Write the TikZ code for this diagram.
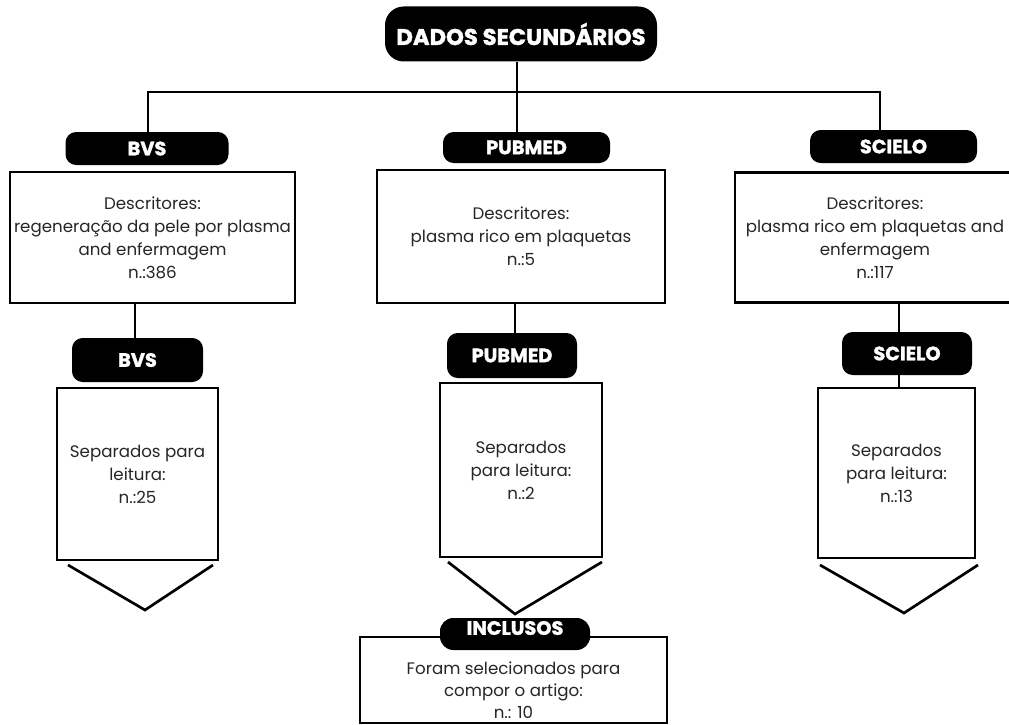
\documentclass[tikz,border=0pt]{standalone}
\usepackage{fontspec}
\setmainfont{Poppins}
\newfontfamily\heavyfont{Poppins}[FakeBold=1.6]
\begin{document}
\begin{tikzpicture}[x=0.75pt,y=-0.75pt,
  sz/.style 2 args={minimum width=#1*0.75pt, minimum height=#2*0.75pt},
  lab/.style={fill=black, rounded corners=8pt, text=white, inner sep=0pt,
    font=\fontsize{14.5}{15}\heavyfont\bfseries},
  box/.style={draw=black, line width=2pt, fill=white, text=black!85, align=center,
    inner sep=0pt, font=\fontsize{12.5}{17.25}\selectfont},
  txt/.style={text=black!85, align=center, inner sep=0pt, font=\fontsize{12.5}{16.5}\selectfont},
  conn/.style={line width=2pt}]
\useasboundingbox (0,0) rectangle (1009,724);

% title
\node[lab, sz={272}{55}, rounded corners=14pt, font=\fontsize{17}{19}\heavyfont\bfseries] (title) at (521,34) {DADOS SECUNDÁRIOS};

% BVS column
\node[lab, sz={163}{33}] (bvslab1) at (147,148.5) {BVS};
\node[box, sz={285}{131}] (bvsbox1) at (152.5,237.5) {Descritores:\\regeneração da pele por plasma\\and enfermagem\\n.:386};
\node[lab, sz={131}{44}] (bvslab2) at (137.5,360) {BVS};
\node[box, sz={161}{172}] (bvsbox2) at (137.5,474) {Separados para\\leitura:\\n.:25};

% PUBMED column
\node[lab, sz={167}{31}] (pmlab1) at (526.5,147.5) {PUBMED};
\node[box, sz={288}{133}] (pmbox1) at (521,236.5) {Descritores:\\plasma rico em plaquetas\\n.:5};
\node[lab, sz={130}{45}] (pmlab2) at (512,355.5) {PUBMED};
\node[box, sz={162}{174}] (pmbox2) at (521,470) {Separados\\para leitura:\\n.:2};

% SCIELO column
\node[lab, sz={167}{33}] (scilab1) at (893.5,146.5) {SCIELO};
\node[box, sz={280}{130}] (scibox1) at (875,237.5) {Descritores:\\plasma rico em plaquetas and\\enfermagem\\n.:117};
\node[lab, sz={130}{43}] (scilab2) at (907,353.5) {SCIELO};
\node[box, sz={157}{170}] (scibox2) at (896.5,473) {Separados\\para leitura:\\n.:13};

% INCLUSOS
\node[box, sz={307}{86}] (incbox) at (513.5,680) {};
\node[txt] (inctxt) at (513.5,690) {Foram selecionados para\\compor o artigo:\\n.: 10};
\node[lab, sz={150}{32}, rounded corners=10pt] (inclab) at (515,634) {};
\node[text=white, inner sep=0pt, font=\fontsize{14.5}{15}\heavyfont\bfseries] (inclabtxt) at (515,628) {INCLUSOS};

% connectors
\coordinate (jl) at (148,92);
\coordinate (jm) at (517,92);
\coordinate (jr) at (880,92);
\draw[conn] (title.south -| jm) -- (pmlab1.north -| jm);
\draw[conn] (bvslab1.north -| jl) -- (jl) -- (jr) -- (scilab1.north -| jr);
\coordinate (bx) at (135,0);
\coordinate (px) at (515,0);
\coordinate (sx) at (899,0);
\draw[conn] (bvsbox1.south -| bx) -- (bvslab2.north -| bx);
\draw[conn] (pmbox1.south -| px) -- (pmlab2.north -| px);
\draw[conn] (scibox1.south -| sx) -- (scilab2.north -| sx);
\draw[conn] (scilab2.south -| sx) -- (scibox2.north -| sx);

% chevrons
\coordinate (b1) at (68,565); \coordinate (b2) at (145,610); \coordinate (b3) at (213,565);
\coordinate (p1) at (448,562); \coordinate (p2) at (515,614); \coordinate (p3) at (602,562);
\coordinate (s1) at (820,565); \coordinate (s2) at (904,613); \coordinate (s3) at (978,565);
\draw[conn] (b1) -- (b2) -- (b3);
\draw[conn] (p1) -- (p2) -- (p3);
\draw[conn] (s1) -- (s2) -- (s3);
\end{tikzpicture}
\end{document}
